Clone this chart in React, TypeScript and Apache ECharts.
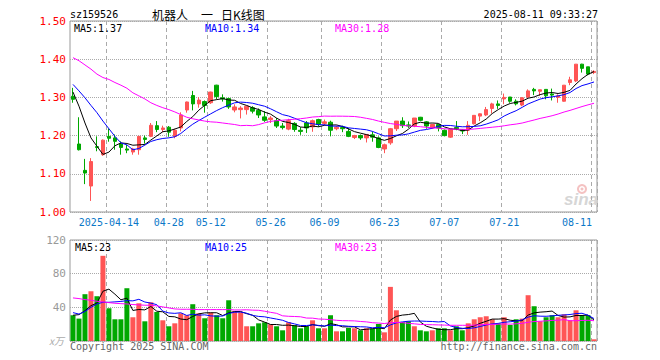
import React, { useEffect, useRef } from 'react';
import * as echarts from 'echarts';

const dates = [
  '04-03','04-07','04-08','04-09','04-10','04-11',
  '04-14','04-15','04-16','04-17','04-18',
  '04-21','04-22','04-23','04-24','04-25',
  '04-28','04-29','04-30',
  '05-06','05-07','05-08','05-09',
  '05-12','05-13','05-14','05-15','05-16',
  '05-19','05-20','05-21','05-22','05-23',
  '05-26','05-27','05-28','05-29','05-30',
  '06-03','06-04','06-05','06-06',
  '06-09','06-10','06-11','06-12','06-13',
  '06-16','06-17','06-18','06-19','06-20',
  '06-23','06-24','06-25','06-26','06-27',
  '06-30','07-01','07-02','07-03','07-04',
  '07-07','07-08','07-09','07-10','07-11',
  '07-14','07-15','07-16','07-17','07-18',
  '07-21','07-22','07-23','07-24','07-25',
  '07-28','07-29','07-30','07-31','08-01',
  '08-04','08-05','08-06','08-07','08-08',
  '08-11',
];
const yearPrefix = '2025-';
const labelDates = ['04-14','04-28','05-12','05-26','06-09','06-23','07-07','07-21','08-11'];

const opens = [
  1.303,1.178,1.109,1.068,1.171,1.150,1.198,1.194,1.178,1.165,
  1.157,1.163,1.194,1.198,1.226,1.216,1.222,1.198,1.220,1.267,
  1.305,1.283,1.289,1.286,1.332,1.299,1.297,1.267,1.268,1.268,
  1.273,1.266,1.249,1.242,1.239,1.225,1.217,1.232,1.214,1.233,
  1.223,1.242,1.232,1.235,1.218,1.221,1.211,1.195,1.200,1.194,
  1.202,1.194,1.165,1.181,1.218,1.238,1.228,1.225,1.248,1.236,
  1.220,1.229,1.214,1.196,1.221,1.216,1.214,1.231,1.251,1.254,
  1.271,1.283,1.296,1.301,1.290,1.280,1.301,1.321,1.316,1.321,
  1.309,1.300,1.290,1.339,1.343,1.387,1.380,1.365,
];
const closes = [
  1.295,1.163,1.102,1.132,1.169,1.188,1.193,1.185,1.169,1.162,
  1.165,1.198,1.190,1.227,1.216,1.220,1.209,1.214,1.254,1.288,
  1.283,1.293,1.279,1.314,1.302,1.296,1.275,1.275,1.272,1.277,
  1.264,1.254,1.240,1.246,1.225,1.221,1.239,1.216,1.211,1.220,
  1.239,1.229,1.236,1.214,1.222,1.218,1.198,1.200,1.194,1.203,
  1.196,1.169,1.176,1.218,1.238,1.226,1.225,1.246,1.240,1.225,
  1.229,1.220,1.200,1.216,1.218,1.212,1.227,1.253,1.257,1.268,
  1.283,1.279,1.300,1.290,1.283,1.299,1.317,1.317,1.320,1.304,
  1.306,1.304,1.332,1.346,1.387,1.376,1.361,1.368,
];
const lows = [
  1.286,1.161,1.073,1.029,1.159,1.147,1.184,1.163,1.150,1.154,
  1.150,1.150,1.179,1.196,1.209,1.209,1.197,1.193,1.211,1.260,
  1.266,1.273,1.260,1.283,1.295,1.289,1.270,1.261,1.245,1.255,
  1.258,1.246,1.236,1.233,1.220,1.216,1.214,1.210,1.202,1.207,
  1.210,1.223,1.226,1.198,1.214,1.209,1.196,1.191,1.189,1.182,
  1.184,1.167,1.154,1.176,1.212,1.220,1.220,1.222,1.238,1.218,
  1.218,1.211,1.198,1.194,1.214,1.204,1.202,1.229,1.238,1.251,
  1.258,1.270,1.282,1.286,1.279,1.277,1.297,1.306,1.304,1.295,
  1.292,1.286,1.289,1.332,1.340,1.365,1.358,1.361,
];
const highs = [
  1.325,1.248,1.139,1.141,1.198,1.190,1.219,1.203,1.185,1.176,
  1.168,1.199,1.200,1.233,1.238,1.226,1.225,1.218,1.261,1.289,
  1.317,1.301,1.292,1.315,1.333,1.308,1.299,1.282,1.277,1.278,
  1.277,1.271,1.264,1.251,1.246,1.233,1.244,1.235,1.222,1.238,
  1.242,1.244,1.242,1.239,1.226,1.226,1.220,1.202,1.203,1.203,
  1.211,1.198,1.179,1.220,1.238,1.248,1.237,1.246,1.249,1.238,
  1.231,1.229,1.216,1.218,1.238,1.216,1.238,1.253,1.258,1.275,
  1.286,1.292,1.310,1.301,1.295,1.301,1.321,1.325,1.320,1.321,
  1.323,1.308,1.332,1.354,1.387,1.388,1.380,1.371,
];
const volumes = [
  30.6,26.6,55.6,59.1,53.2,101.2,38.9,25.8,25.8,62.7,
  28.2,44.8,23.4,46.0,34.5,24.6,17.5,21.0,32.9,30.6,
  43.7,32.9,27.0,33.7,30.6,27.0,48.4,35.3,34.1,17.5,
  17.5,21.0,22.2,19.8,17.5,12.7,22.2,18.7,15.1,17.5,
  24.6,15.1,15.1,30.6,11.5,11.5,15.5,15.1,12.7,15.1,
  14.7,20.2,10.3,64.3,36.5,22.6,23.4,17.5,12.7,11.5,
  12.7,15.1,15.1,12.7,17.5,12.7,21.0,25.8,28.2,29.4,
  25.8,21.0,28.2,19.0,25.8,26.6,54.4,41.3,23.4,28.2,
  30.6,28.2,31.7,24.6,36.5,30.6,30.6,2.0,
];

// moving-average values before each window is full (they depend on earlier, unseen days)
const ma5Head = [1.314, 1.277, 1.233, 1.194];
const ma10Head = [1.334, 1.317, 1.299, 1.279, 1.260, 1.238, 1.218, 1.198, 1.181];
const ma30Head = [
  1.404,1.396,1.385,1.374,1.361,1.352,1.347,1.339,1.332,1.324,
  1.312,1.304,1.296,1.286,1.279,1.273,1.268,1.262,1.255,1.248,
  1.244,1.241,1.238,1.236,1.235,1.233,1.231,1.229,1.226,
];
const vma5Head = [30.6, 31.3, 36, 42];
const vma10Head = [33.7, 32, 35, 40, 44, 46, 46, 46.5, 47];
const vma30Head = [
  51.2,50.4,49.2,48.4,47.2,46.4,45.6,44.8,44.4,44.0,
  43.3,42.9,42.5,42.5,41.7,40.5,39.3,38.1,37.7,37.7,
  37.7,37.3,37.3,37.3,37.3,37.3,37.3,36.9,36.9,
];

const priceMaLabels = ['MA5:1.37', 'MA10:1.34', 'MA30:1.28'];
const volMaLabels = ['MA5:23', 'MA10:25', 'MA30:23'];

function movingAverage(values: number[], n: number, head: number[]) {
  return values.map((_, i) => {
    if (i < n - 1) return head[i];
    let s = 0;
    for (let k = i - n + 1; k <= i; k++) s += values[k];
    return +(s / n).toFixed(4);
  });
}

const UP = '#ff5555';
const DOWN = '#00a800';
const MONO = 'DejaVu Sans Mono';

export default function App() {
  const ref = useRef<HTMLDivElement>(null);
  useEffect(() => {
    if (!ref.current) return;
    const chart = echarts.init(ref.current, undefined, { renderer: 'svg' });
    const labelSet = new Set(labelDates.map((d) => dates.indexOf(d)));
    const lastIdx = dates.length - 1;
    const kData = dates.map((_, i) => [opens[i], closes[i], lows[i], highs[i]]);
    const volData = volumes.map((v, i) => ({
      value: v,
      itemStyle: { color: closes[i] >= opens[i] ? UP : DOWN },
    }));
    const lineS = (name: string, data: number[], color: string, xi: number) => ({
      name,
      type: 'line',
      xAxisIndex: xi,
      yAxisIndex: xi,
      data,
      showSymbol: false,
      symbol: 'none',
      lineStyle: { color, width: 1 },
      z: 5,
    });
    const splitLine = {
      show: true,
      interval: (i: number) => labelSet.has(i),
      lineStyle: { color: '#aaa', type: [4, 3], width: 1 },
    };
    const txt = (x: number, y: number, text: string, fill: string, extra: any = {}) => ({
      type: 'text',
      x,
      y,
      style: { text, fill, font: `10px "${MONO}"`, textVerticalAlign: 'middle', ...extra },
      z: 10,
    });
    const option: any = {
      animation: false,
      backgroundColor: '#ffffff',
      grid: [
        { left: 70, top: 21, width: 527, height: 191, show: true, borderColor: '#999', borderWidth: 1 },
        { left: 70, top: 240, width: 527, height: 101, show: true, borderColor: '#999', borderWidth: 1 },
      ],
      xAxis: [
        {
          type: 'category',
          gridIndex: 0,
          data: dates,
          boundaryGap: true,
          axisLine: { show: false },
          axisTick: { show: false },
          axisLabel: {
            interval: (i: number) => labelSet.has(i),
            color: '#0b78c8',
            fontSize: 10,
            fontFamily: MONO,
            margin: 5,
            formatter: (v: string, i: number) => {
              if (i === labelSet.values().next().value) return yearPrefix + v;
              if (i === lastIdx) return '{e|' + v + '}';
              return v;
            },
            rich: {
              e: { color: '#0b78c8', fontSize: 10, fontFamily: MONO, padding: [0, 34, 0, 0] },
            },
          },
          splitLine,
        },
        {
          type: 'category',
          gridIndex: 1,
          data: dates,
          boundaryGap: true,
          axisLine: { show: false },
          axisTick: { show: false },
          axisLabel: { show: false },
          splitLine,
        },
      ],
      yAxis: [
        {
          type: 'value',
          gridIndex: 0,
          min: 1.0,
          max: 1.5,
          interval: 0.1,
          axisLine: { show: false },
          axisTick: { show: false },
          axisLabel: {
            color: '#ff0000',
            fontSize: 11,
            fontFamily: MONO,
            margin: 4,
            formatter: (v: number) => v.toFixed(2),
          },
          splitLine: { show: true, lineStyle: { color: '#aaa', type: 'dotted' } },
        },
        {
          type: 'value',
          gridIndex: 1,
          min: 0,
          max: 120,
          interval: 40,
          axisLine: { show: false },
          axisTick: { show: false },
          axisLabel: {
            color: '#999',
            fontSize: 11,
            fontFamily: MONO,
            margin: 4,
            formatter: (v: number) => (v === 0 ? '' : String(v)),
          },
          splitLine: { show: true, lineStyle: { color: '#aaa', type: 'dotted' } },
        },
      ],
      series: [
        {
          name: 'K',
          type: 'candlestick',
          xAxisIndex: 0,
          yAxisIndex: 0,
          data: kData,
          barWidth: 4,
          itemStyle: { color: UP, color0: DOWN, borderColor: UP, borderColor0: DOWN, borderWidth: 1 },
        },
        lineS('MA5', movingAverage(closes, 5, ma5Head), '#000000', 0),
        lineS('MA10', movingAverage(closes, 10, ma10Head), '#0000ff', 0),
        lineS('MA30', movingAverage(closes, 30, ma30Head), '#ff00ff', 0),
        {
          name: 'VOL',
          type: 'bar',
          xAxisIndex: 1,
          yAxisIndex: 1,
          data: volData,
          barWidth: 5,
        },
        lineS('VMA5', movingAverage(volumes, 5, vma5Head), '#000000', 1),
        lineS('VMA10', movingAverage(volumes, 10, vma10Head), '#0000ff', 1),
        lineS('VMA30', movingAverage(volumes, 30, vma30Head), '#ff00ff', 1),
      ],
      graphic: [
        txt(70, 14, 'sz159526', '#000'),
        { type: 'text', x: 152, y: 14, style: { text: '机器人', fill: '#000', font: '12px "Noto Sans CJK SC"', textVerticalAlign: 'middle' } },
        { type: 'text', x: 201, y: 14, style: { text: '一', fill: '#000', font: '12px "Noto Sans CJK SC"', textVerticalAlign: 'middle' } },
        { type: 'text', x: 221, y: 14, style: { text: '日K线图', fill: '#000', font: '12px "Noto Sans CJK SC"', textVerticalAlign: 'middle' } },
        txt(598, 14, '2025-08-11 09:33:27', '#000', { textAlign: 'right' }),
        txt(74, 28, priceMaLabels[0], '#000000'),
        txt(205, 28, priceMaLabels[1], '#0000ff'),
        txt(335, 28, priceMaLabels[2], '#ff00ff'),
        txt(75, 247, volMaLabels[0], '#000000'),
        txt(205, 247, volMaLabels[1], '#0000ff'),
        txt(335, 247, volMaLabels[2], '#ff00ff'),
        {
          type: 'text', x: 49, y: 340,
          style: { text: 'x万', fill: '#aaa', font: 'italic 10px "Noto Sans CJK SC"', textVerticalAlign: 'middle' },
        },
        txt(70, 346, 'Copyright 2025 SINA.COM', '#666'),
        txt(597, 346, 'http://finance.sina.com.cn', '#666', { textAlign: 'right' }),
        {
          type: 'group',
          z: 1,
          children: [
            { type: 'ring', shape: { cx: 582, cy: 189, r: 5, r0: 3 }, style: { fill: '#f4c2c2' } },
            { type: 'circle', shape: { cx: 582, cy: 189, r: 1.5 }, style: { fill: '#f4c2c2' } },
            {
              type: 'text', x: 581, y: 199,
              style: { text: 'sina', fill: '#d6d6d6', font: 'italic bold 17px "Liberation Sans"', textAlign: 'center', textVerticalAlign: 'middle' },
            },
          ],
        },
      ],
    };
    chart.setOption(option);
    return () => chart.dispose();
  }, []);
  return (
    <div
      ref={ref}
      style={{ position: 'fixed', left: 0, top: 0, width: 660, height: 360, background: '#fff' }}
    />
  );
}
